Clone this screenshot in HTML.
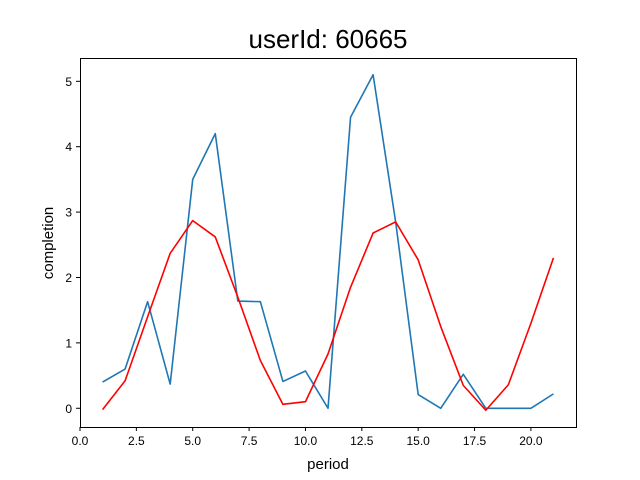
<!DOCTYPE html>
<html><head><meta charset="utf-8"><style>
body{margin:0;background:#fff}
svg{display:block;font-family:"Liberation Sans","DejaVu Sans",sans-serif}
</style></head><body>
<svg id="chart" width="640" height="480">
<rect width="640" height="480" fill="#fff"/>
<text x="328" y="48" font-size="26" text-anchor="middle">userId: 60665</text>
<text x="328" y="469" font-size="15" text-anchor="middle">period</text>
<text x="0" y="0" font-size="15" text-anchor="middle" transform="translate(53,243) rotate(-90)">completion</text>
<g id="ticks"></g>
<g id="lines"></g>
<rect x="80.5" y="58.5" width="496" height="369" fill="none" stroke="#000" stroke-width="1"/>
</svg>
<script>
const periods=[1,2,3,4,5,6,7,8,9,10,11,12,13,14,15,16,17,18,19,20,21];
const actual=[0.4,0.6,1.63,0.37,3.5,4.2,1.64,1.63,0.41,0.57,0,4.45,5.1,2.85,0.21,0,0.52,0,0,0,0.22];
const smoothed=[-0.02,0.42,1.4,2.37,2.87,2.62,1.7,0.73,0.06,0.1,0.83,1.85,2.68,2.85,2.27,1.25,0.35,-0.03,0.36,1.3,2.3];
const xTicks=[0,2.5,5,7.5,10,12.5,15,17.5,20];
const xTickLabels=["0.0","2.5","5.0","7.5","10.0","12.5","15.0","17.5","20.0"];
const yTicks=[0,1,2,3,4,5];
const NS="http://www.w3.org/2000/svg";
const x0=80,x1=576,y0=427,y1=58;
const xmin=0,xmax=22;
const allY=actual.concat(smoothed);
const dmin=Math.min(...allY),dmax=Math.max(...allY),m=(dmax-dmin)*0.05;
const ymin=dmin-m,ymax=dmax+m;
const sx=v=>x0+(v-xmin)/(xmax-xmin)*(x1-x0);
const sy=v=>y0-(v-ymin)/(ymax-ymin)*(y0-y1);
const ticks=document.getElementById('ticks');
function mk(tag,attrs,parent){const e=document.createElementNS(NS,tag);for(const k in attrs)e.setAttribute(k,attrs[k]);parent.appendChild(e);return e;}
xTicks.forEach((t,i)=>{
  const x=sx(t);
  const l=mk('line',{x1:x,x2:x,y1:y0,y2:y0+4,stroke:'#000'},ticks);
  
  
  const tx=mk('text',{x:x,y:y0+18,'font-size':12,'text-anchor':'middle'},ticks);
  tx.textContent=xTickLabels[i];
  
  
});
yTicks.forEach(t=>{
  const y=sy(t);
  const l=mk('line',{x1:x0-4,x2:x0,y1:y,y2:y,stroke:'#000'},ticks);
  
  
  const tx=mk('text',{x:x0-8,y:y+4.5,'font-size':12,'text-anchor':'end'},ticks);
  tx.textContent=String(t);
  
  
});
const lines=document.getElementById('lines');
function series(vals,color,name){
  const pts=periods.map((p,i)=>sx(p).toFixed(2)+','+sy(vals[i]).toFixed(2)).join(' ');
  const pl=mk('polyline',{points:pts,fill:'none',stroke:color,'stroke-width':1.6,'stroke-linejoin':'round'},lines);
  
  
}
series(actual,'#1f77b4','actual-completion-line');
series(smoothed,'#ff0000','smoothed-completion-line');
</script>
</body></html>
